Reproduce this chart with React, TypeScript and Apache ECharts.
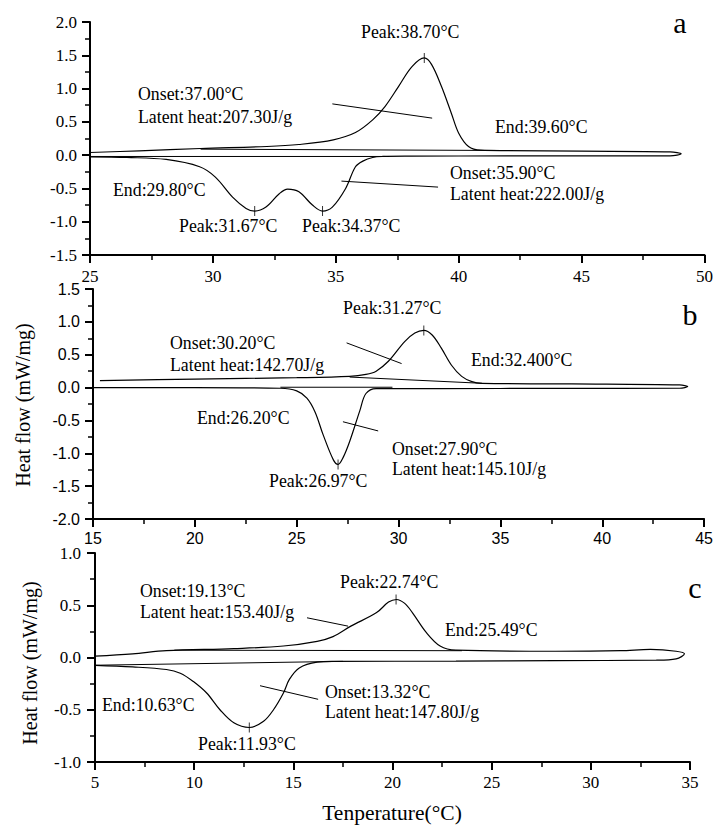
import React, { useEffect, useRef } from "react";
import * as echarts from "echarts";

// ---- Panel a (x: 25–50, y: -1.5–2.0)
const loopA: number[][] = [
  [25, 0.04], [27, 0.065], [29.5, 0.1], [32.2, 0.13], [33.5, 0.16], [34.9, 0.23], [35.8, 0.34],
  [36.5, 0.53], [37.0, 0.73], [37.55, 1.03], [38.1, 1.33], [38.6, 1.46], [38.9, 1.36], [39.3, 1.03],
  [39.7, 0.63], [40.0, 0.33], [40.4, 0.13], [40.9, 0.075], [42, 0.068], [45, 0.06], [48.6, 0.05],
  [49.05, 0.02], [48.6, -0.01], [46, -0.01], [42, -0.012], [38, -0.015], [36.9, -0.02],
  [36.5, -0.035], [36.1, -0.09], [35.8, -0.175], [35.4, -0.5], [34.86, -0.78], [34.46, -0.84],
  [34.05, -0.75], [33.5, -0.55], [33.04, -0.51], [32.7, -0.58], [32.16, -0.78], [31.7, -0.84],
  [31.35, -0.8], [30.8, -0.63], [30.1, -0.33], [29.46, -0.175], [28.1, -0.065], [26.5, -0.035], [25, -0.025],
];
const baselinesA: number[][][] = [
  [[29.5, 0.09], [41.5, 0.07]],
  [[25, -0.02], [37, -0.02]],
];
const leadersA: number[][][] = [
  [[34.86, 0.77], [38.92, 0.556]],
  [[35.23, -0.39], [39.16, -0.48]],
];
const peaksA: number[][] = [[38.6, 1.46], [31.7, -0.84], [34.46, -0.84]];

// ---- Panel b (x: 15–45, y: -2.0–1.5)
const loopB: number[][] = [
  [15.34, 0.105], [20, 0.13], [25, 0.15], [27.6, 0.17], [28.4, 0.2], [28.9, 0.25], [29.5, 0.4],
  [30.3, 0.7], [30.8, 0.83], [31.24, 0.87], [31.65, 0.8], [32.1, 0.6], [32.6, 0.34], [33.1, 0.17],
  [33.6, 0.09], [34.1, 0.065], [38.5, 0.055], [43.8, 0.04], [44.2, 0.015], [43.8, -0.01],
  [38, -0.012], [32, -0.015], [28.9, -0.015], [28.4, -0.09], [28.1, -0.35], [27.6, -0.82],
  [27.27, -1.07], [27.03, -1.17], [26.8, -1.1], [26.3, -0.72], [25.9, -0.37], [25.5, -0.16],
  [25.0, -0.05], [24.2, -0.01], [20, 0.0], [15, 0.0],
];
const baselinesB: number[][][] = [
  [[27.6, 0.16], [34.1, 0.065]],
  [[24.2, 0.005], [29.7, 0.005]],
];
const leadersB: number[][][] = [
  [[27.45, 0.68], [30.15, 0.365]],
  [[27.27, -0.52], [29.0, -0.66]],
];
const peaksB: number[][] = [[31.24, 0.87], [27.03, -1.17]];

// ---- Panel c (x: 5–35, y: -1.0–1.0)
const loopC: number[][] = [
  [5, 0.013], [6.9, 0.035], [8.6, 0.065], [12, 0.085], [14.5, 0.11], [16.2, 0.155], [17.0, 0.2],
  [17.9, 0.3], [19.2, 0.43], [19.8, 0.53], [20.2, 0.555], [20.6, 0.52], [21.0, 0.43], [21.7, 0.24],
  [22.4, 0.11], [23.2, 0.07], [28.2, 0.06], [31.5, 0.065], [33, 0.077], [34.3, 0.06], [34.72, 0.035],
  [34.3, -0.013], [33.3, -0.026], [28.2, -0.03], [23.2, -0.035], [17.0, -0.037], [16.2, -0.045],
  [15.3, -0.1], [14.8, -0.21], [14.5, -0.34], [14.0, -0.5], [13.5, -0.61], [12.78, -0.67],
  [12.0, -0.625], [11.3, -0.5], [10.63, -0.34], [9.96, -0.23], [9.3, -0.15], [8.6, -0.115],
  [6.9, -0.09], [5, -0.075],
];
const baselinesC: number[][][] = [
  [[9, 0.07], [23.5, 0.065]],
  [[5, -0.074], [17.5, -0.037]],
];
const leadersC: number[][][] = [
  [[15.69, 0.38], [17.76, 0.3]],
  [[13.32, -0.27], [16.25, -0.4]],
];
const peaksC: number[][] = [[20.18, 0.555], [12.78, -0.67]];

// axis ranges
const xRanges = [[25, 50], [15, 45], [5, 35]];
const yRanges = [[-1.5, 2.0], [-2.0, 1.5], [-1.0, 1.0]];

// annotation texts
const annotations: { panel: number; text: string; x: number; y: number }[] = [
  { panel: 0, text: "Peak:38.70°C", x: 361, y: 32 },
  { panel: 0, text: "Onset:37.00°C", x: 138, y: 94 },
  { panel: 0, text: "Latent heat:207.30J/g", x: 138, y: 117 },
  { panel: 0, text: "End:39.60°C", x: 495, y: 127 },
  { panel: 0, text: "Onset:35.90°C", x: 450, y: 173 },
  { panel: 0, text: "Latent heat:222.00J/g", x: 450, y: 194 },
  { panel: 0, text: "End:29.80°C", x: 113, y: 190 },
  { panel: 0, text: "Peak:31.67°C", x: 179, y: 226 },
  { panel: 0, text: "Peak:34.37°C", x: 302, y: 226 },
  { panel: 1, text: "Peak:31.27°C", x: 343, y: 308 },
  { panel: 1, text: "Onset:30.20°C", x: 170, y: 343 },
  { panel: 1, text: "Latent heat:142.70J/g", x: 170, y: 365 },
  { panel: 1, text: "End:32.400°C", x: 471, y: 360 },
  { panel: 1, text: "End:26.20°C", x: 197, y: 418 },
  { panel: 1, text: "Onset:27.90°C", x: 392, y: 449 },
  { panel: 1, text: "Latent heat:145.10J/g", x: 392, y: 469 },
  { panel: 1, text: "Peak:26.97°C", x: 269, y: 481 },
  { panel: 2, text: "Onset:19.13°C", x: 140, y: 591 },
  { panel: 2, text: "Latent heat:153.40J/g", x: 140, y: 612 },
  { panel: 2, text: "Peak:22.74°C", x: 340, y: 582 },
  { panel: 2, text: "End:25.49°C", x: 445, y: 630 },
  { panel: 2, text: "End:10.63°C", x: 102, y: 705 },
  { panel: 2, text: "Onset:13.32°C", x: 325, y: 692 },
  { panel: 2, text: "Latent heat:147.80J/g", x: 325, y: 712 },
  { panel: 2, text: "Peak:11.93°C", x: 198, y: 744 },
];
const panelLetters = ["a", "b", "c"];

const SERIF = '"Liberation Serif", "Times New Roman", serif';
const SANS = '"Liberation Sans", Arial, sans-serif';

export default function App() {
  const ref = useRef<HTMLDivElement>(null);
  useEffect(() => {
    if (!ref.current) return;
    const chart = echarts.init(ref.current, null, { renderer: "svg" });

    const grids = [
      { left: 90, top: 22, width: 616, height: 233 },
      { left: 93, top: 289, width: 612, height: 230 },
      { left: 95, top: 553, width: 595, height: 209 },
    ];
    const tickFonts = [
      { fam: SERIF, size: 17, xm: 13, ym: 13 },
      { fam: SANS, size: 16, xm: 11, ym: 13 },
      { fam: SERIF, size: 17, xm: 12, ym: 14 },
    ];

    const axisCommon = () => ({
      axisLine: { onZero: false, lineStyle: { color: "#000", width: 2 } },
      axisTick: { inside: false, length: 8, lineStyle: { color: "#000", width: 2 } },
      minorTick: { show: true, splitNumber: 2, length: 5, lineStyle: { color: "#000", width: 1.5 } },
      splitLine: { show: false },
      minorSplitLine: { show: false },
    });

    const xAxis = xRanges.map((r, i) => ({
      type: "value",
      gridIndex: i,
      min: r[0],
      max: r[1],
      interval: 5,
      ...axisCommon(),
      axisLabel: {
        color: "#000",
        fontFamily: tickFonts[i].fam,
        fontSize: tickFonts[i].size,
        margin: tickFonts[i].xm,
        showMinLabel: true,
        showMaxLabel: true,
      },
    }));
    const yAxis = yRanges.map((r, i) => ({
      type: "value",
      gridIndex: i,
      min: r[0],
      max: r[1],
      interval: 0.5,
      ...axisCommon(),
      axisLabel: {
        color: "#000",
        fontFamily: tickFonts[i].fam,
        fontSize: tickFonts[i].size,
        margin: tickFonts[i].ym,
        formatter: (v: number) => v.toFixed(1),
      },
    }));

    const lineSeries = (data: number[][], idx: number, width = 1.2, smooth: number | boolean = 0.35) => ({
      type: "line",
      xAxisIndex: idx,
      yAxisIndex: idx,
      data,
      smooth,
      showSymbol: false,
      symbol: "none",
      silent: true,
      lineStyle: { color: "#000", width },
    });

    const panels = [
      { loop: loopA, base: baselinesA, lead: leadersA, peaks: peaksA },
      { loop: loopB, base: baselinesB, lead: leadersB, peaks: peaksB },
      { loop: loopC, base: baselinesC, lead: leadersC, peaks: peaksC },
    ];
    const series: any[] = [];
    panels.forEach((p, i) => {
      series.push(lineSeries(p.loop, i, 1.2, 0.35));
      p.base.forEach((b) => series.push(lineSeries(b, i, 1, false)));
      p.lead.forEach((l) => series.push(lineSeries(l, i, 1, false)));
      series.push({
        type: "scatter",
        xAxisIndex: i,
        yAxisIndex: i,
        data: p.peaks,
        symbol: "rect",
        symbolSize: [1, 10],
        silent: true,
        itemStyle: { color: "#000" },
      });
    });

    const graphic: any[] = annotations.map((a) => ({
      type: "text",
      x: a.x,
      y: a.y,
      silent: true,
      style: {
        text: a.text,
        fill: "#000",
        fontFamily: SERIF,
        fontSize: 17.8,
        align: "left",
        verticalAlign: "middle",
      },
    }));
    const letterPos = [
      [680, 22],
      [690, 314],
      [695, 587],
    ];
    panelLetters.forEach((l, i) => {
      graphic.push({
        type: "text",
        x: letterPos[i][0],
        y: letterPos[i][1],
        style: {
          text: l,
          fill: "#000",
          fontFamily: SERIF,
          fontSize: 30,
          align: "center",
          verticalAlign: "middle",
        },
      });
    });
    const yTitles = [
      [23, 405],
      [30, 663],
    ];
    yTitles.forEach((p) => {
      graphic.push({
        type: "text",
        x: p[0],
        y: p[1],
        rotation: Math.PI / 2,
        style: {
          text: "Heat flow (mW/mg)",
          fill: "#000",
          fontFamily: SERIF,
          fontSize: 20,
          align: "center",
          verticalAlign: "middle",
        },
      });
    });
    graphic.push({
      type: "text",
      x: 392,
      y: 813,
      style: {
        text: "Tenperature(°C)",
        fill: "#000",
        fontFamily: SERIF,
        fontSize: 21.5,
        align: "center",
        verticalAlign: "middle",
      },
    });

    chart.setOption({
      animation: false,
      backgroundColor: "#fff",
      grid: grids.map((g) => ({ ...g, containLabel: false })),
      xAxis,
      yAxis,
      series,
      graphic,
    });
    return () => chart.dispose();
  }, []);
  return (
    <div
      ref={ref}
      style={{ position: "fixed", left: 0, top: 0, width: 716, height: 826, background: "#fff" }}
    />
  );
}
